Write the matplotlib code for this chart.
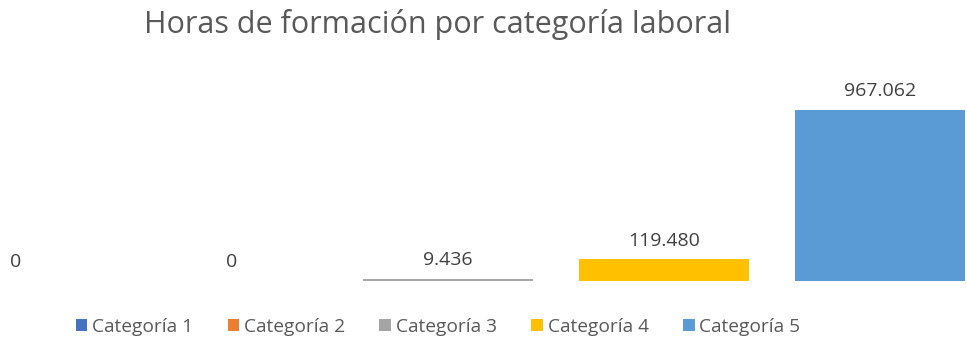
import matplotlib.pyplot as plt
from matplotlib.patches import Patch

categorias = ["Categoría 1", "Categoría 2", "Categoría 3", "Categoría 4", "Categoría 5"]
horas = [0, 0, 9436, 119480, 967062]
colores = ["#4472C4", "#ED7D31", "#A5A5A5", "#FFC000", "#5B9BD5"]

plt.rcParams['font.family'] = ['Open Sans', 'DejaVu Sans']

W, H = 967, 341
fig = plt.figure(figsize=(W / 100, H / 100), dpi=100)

# área de trazado: base de las barras a 280 px desde arriba
base_px = 280.5
top_px = 70
ax = fig.add_axes([0, (H - base_px) / H, 1, (base_px - top_px) / H])

x = list(range(len(categorias)))
ax.bar(x, horas, width=0.79, color=colores)

escala = 967062 / (base_px - 110)
ax.set_ylim(0, (base_px - top_px) * escala)
ax.set_xlim(-16 / 216, (W - 16) / 216)
ax.axis("off")

for xi, v in zip(x, horas):
    etiqueta = f"{v:,}".replace(",", ".")
    ax.annotate(etiqueta, (xi, v), xytext=(0, 7), textcoords="offset points",
                ha="center", va="bottom", fontsize=14, color="#404040")

fig.text(438 / W, 1 - 25 / H, "Horas de formación por categoría laboral",
         ha="center", va="center", fontsize=22, color="#595959")

handles = [Patch(facecolor=c, edgecolor="none") for c in colores]
fig.legend(handles, categorias, loc="center", bbox_to_anchor=(438 / W, 1 - 327 / H),
           ncol=5, frameon=False, fontsize=13.8, labelcolor="#595959",
           handlelength=0.6, handleheight=0.6, handletextpad=0.25, columnspacing=1.8)

fig.savefig("out.png", dpi=100)
